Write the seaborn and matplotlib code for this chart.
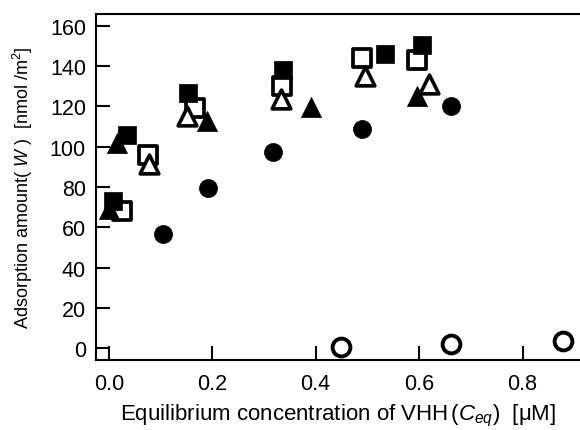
import matplotlib
matplotlib.use("Agg")
import matplotlib.pyplot as plt
import seaborn as sns
import pandas as pd

# ---- data ----
filled_sq_x = [0.009, 0.035, 0.153, 0.336, 0.534, 0.606]
filled_sq_y = [73.0, 106.0, 126.5, 138.0, 146.0, 150.6]

open_sq_x = [0.025, 0.076, 0.167, 0.334, 0.489, 0.596]
open_sq_y = [68.0, 96.0, 119.0, 130.0, 144.0, 143.0]

filled_tri_x = [0.000, 0.015, 0.189, 0.391, 0.596]
filled_tri_y = [69.0, 102.0, 113.0, 119.5, 125.3]

open_tri_x = [0.078, 0.151, 0.333, 0.496, 0.619]
open_tri_y = [91.4, 115.4, 123.7, 135.2, 131.1]

filled_circ_x = [0.104, 0.192, 0.317, 0.489, 0.661]
filled_circ_y = [56.7, 79.5, 97.5, 108.8, 120.0]

open_circ_x = [0.448, 0.662, 0.878]
open_circ_y = [0.8, 2.2, 3.6]

x_ticks = [0.0, 0.2, 0.4, 0.6, 0.8]
y_ticks = [0, 20, 40, 60, 80, 100, 120, 140, 160]

sns.set_theme(style="ticks")
plt.rcParams["font.family"] = ["Liberation Sans", "DejaVu Sans"]
plt.rcParams["mathtext.fontset"] = "custom"
plt.rcParams["mathtext.rm"] = "Liberation Sans"
plt.rcParams["mathtext.it"] = "Liberation Sans:italic"

fig = plt.figure(figsize=(5.80, 4.31), dpi=100)
ax = fig.add_axes([0.165, 0.1624, 0.835, 0.8026])

series = [
    # x, y, marker, size(pt^2), face, edge, lw, zorder
    (open_sq_x, open_sq_y, "s", 12.4 ** 2, "white", "black", 2.7, 3),
    (open_tri_x, open_tri_y, "^", 13.5 ** 2, "white", "black", 2.6, 4),
    (filled_sq_x, filled_sq_y, "s", 12.8 ** 2, "black", "black", 0.5, 5),
    (filled_tri_x, filled_tri_y, "^", 14.5 ** 2, "black", "black", 0.5, 6),
    (filled_circ_x, filled_circ_y, "o", 13.0 ** 2, "black", "black", 0.5, 7),
    (open_circ_x, open_circ_y, "o", 12.8 ** 2, "white", "black", 2.8, 8),
]

for xs, ys, mk, s, fc, ec, lw, z in series:
    df = pd.DataFrame({"x": xs, "y": ys})
    sns.scatterplot(data=df, x="x", y="y", ax=ax, marker=mk, s=s,
                    facecolor=fc, edgecolor=ec, linewidth=lw, zorder=z,
                    clip_on=False)

ax.set_xlim(-0.0253, 0.911)
ax.set_ylim(-5.8, 165.8)
ax.set_xticks(x_ticks)
ax.set_xticklabels([f"{v:.1f}" for v in x_ticks])
ax.set_yticks(y_ticks)
ax.set_yticklabels([str(v) for v in y_ticks])

for side in ["left", "bottom", "top"]:
    ax.spines[side].set_linewidth(1.5)
    ax.spines[side].set_color("black")
ax.spines["right"].set_visible(False)

ax.tick_params(axis="both", direction="in", length=10, width=1.5,
               colors="black", labelsize=15.5, top=False, right=False)
ax.tick_params(axis="y", pad=7)
ax.tick_params(axis="x", pad=9)

ax.set_xlabel("Equilibrium concentration of VHH$\\,(C_{eq})$  [μM]",
              fontsize=16, labelpad=6, color="black")
ax.set_ylabel("Adsorption amount( $W$ )  [nmol /m$^2$]",
              fontsize=13, labelpad=11, color="black")

fig.savefig("out.png", dpi=100)
